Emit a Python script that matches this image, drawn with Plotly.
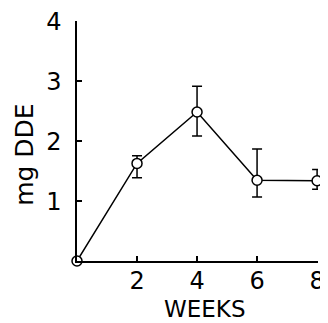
import plotly.graph_objects as go

weeks = [0, 2, 4, 6, 8]
dde = [0.0, 1.63, 2.49, 1.35, 1.34]
err_plus = [0.0, 0.13, 0.43, 0.52, 0.19]
err_minus = [0.0, 0.24, 0.40, 0.28, 0.14]

x_ticks = [2, 4, 6, 8]
y_ticks = [1, 2, 3, 4]

x_title = "WEEKS"
y_title = "mg DDE"

font_family = "DejaVu Sans, Liberation Sans, sans-serif"

fig = go.Figure()
fig.add_trace(go.Scatter(
    x=weeks, y=dde,
    mode="lines+markers",
    line=dict(color="black", width=1.5),
    marker=dict(symbol="circle", size=10, color="white",
                line=dict(color="black", width=1.5)),
    error_y=dict(type="data", symmetric=False, array=err_plus,
                 arrayminus=err_minus, color="black", thickness=1.5, width=5),
    cliponaxis=False,
    showlegend=False,
))

# The page body has an 8px margin, so the figure is sized to fit 328x323 with it.
fig.update_layout(
    width=320, height=315,
    margin=dict(l=69, r=10, t=13, b=62, autoexpand=False),
    paper_bgcolor="white", plot_bgcolor="white",
    font=dict(family=font_family, color="black", size=24),
)
fig.update_xaxes(
    range=[0, 8.03], tickvals=x_ticks, ticktext=[str(v) for v in x_ticks],
    showline=True, linecolor="black", linewidth=2,
    ticks="inside", ticklen=5, tickcolor="black", tickwidth=1.5,
    showgrid=False, zeroline=False, automargin=False,
    tickfont=dict(size=24), ticklabelstandoff=-3,
)
fig.update_yaxes(
    range=[0, 4.01], tickvals=y_ticks, ticktext=[str(v) for v in y_ticks],
    showline=True, linecolor="black", linewidth=1.5,
    ticks="inside", ticklen=5, tickcolor="black", tickwidth=1.5,
    showgrid=False, zeroline=False, automargin=False,
    tickfont=dict(size=24), ticklabelstandoff=9,
)

fig.add_annotation(text=x_title, xref="paper", yref="paper",
                   x=0.53, y=-0.198, xanchor="center", yanchor="middle",
                   showarrow=False, font=dict(size=23), borderpad=0)
fig.add_annotation(text=y_title, xref="paper", yref="paper",
                   x=-0.216, y=0.442, xanchor="center", yanchor="middle",
                   textangle=-90, showarrow=False, font=dict(size=25))

fig.write_html("out.html")
